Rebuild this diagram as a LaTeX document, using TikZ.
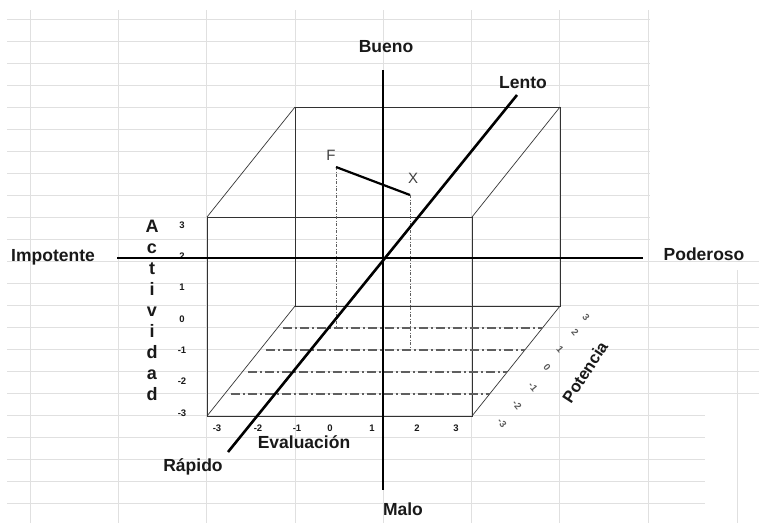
\documentclass[tikz,border=0pt]{standalone}
\usepackage{fontspec}
\setmainfont{Liberation Sans}
\usepackage{xcolor}
\usetikzlibrary{calc}
\definecolor{gridgray}{RGB}{224,224,224}
\definecolor{edgegray}{RGB}{50,50,50}
\definecolor{dashgray}{RGB}{95,95,95}
\definecolor{labelblack}{RGB}{25,25,25}

\begin{document}
\begin{tikzpicture}[x=1pt,y=-1pt,
  gridline/.style={line width=0.8pt,gridgray},
  edge/.style={line width=1pt,edgegray},
  slantedge/.style={line width=0.7pt,edgegray},
  floorline/.style={line width=1.1pt,dashgray,dash pattern=on 9pt off 3pt on 2pt off 3pt},
  projline/.style={line width=0.7pt,dashgray,dash pattern=on 3pt off 1.5pt on 1pt off 1.5pt},
  axisline/.style={line width=2.6pt,black},
  axislabel/.style={font=\fontsize{17.5}{20}\selectfont\bfseries,text=labelblack,inner sep=1pt},
  letterlabel/.style={font=\fontsize{18}{20}\selectfont\bfseries,text=labelblack,inner sep=0pt,anchor=base},
  ticklabel/.style={font=\fontsize{9.5}{11}\selectfont\bfseries,text=labelblack,inner sep=0.5pt},
  slanttick/.style={font=\fontsize{9.5}{11}\selectfont\bfseries,text=black!65,inner sep=0pt,rotate=-50},
  pointlabel/.style={font=\fontsize{15}{17}\selectfont,text=black!75,inner sep=1pt}]
  \useasboundingbox (0,0) rectangle (759,523);
  % spreadsheet grid behind
  \foreach \gy in {19,41,...,239} \draw[gridline] (7,\gy) -- (650,\gy);
  \foreach \gy in {261,283,...,393} \draw[gridline] (7,\gy) -- (759,\gy);
  \foreach \gy in {415,437,...,503} \draw[gridline] (7,\gy) -- (705,\gy);
  \foreach \gx in {30,118.3,...,650} \draw[gridline] (\gx,10) -- (\gx,523);
  \draw[gridline] (737,270) -- (737,523);
  % cube
  \coordinate (f1) at (207,217);
  \coordinate (f2) at (472,217);
  \coordinate (f3) at (472,416);
  \coordinate (f4) at (207,416);
  \coordinate (b1) at (295,107);
  \coordinate (b2) at (560,107);
  \coordinate (b3) at (560,306);
  \coordinate (b4) at (295,306);
  \draw[edge] (f1) -- (f2) -- (f3) -- (f4) -- cycle;
  \draw[edge] (b1) -- (b2) -- (b3) -- (b4) -- cycle;
  \draw[slantedge] (f1) -- (b1) (f2) -- (b2) (f3) -- (b3) (f4) -- (b4);
  \foreach \t in {0.2,0.4,0.6,0.8}
    \draw[floorline] ($(f4)!\t!(b4)+(6,0)$) -- ($(f3)!\t!(b3)$);
  % points F and X
  \coordinate (pF) at (336,167);
  \coordinate (pX) at (410,195);
  \coordinate (pFb) at (336,328);
  \coordinate (pXb) at (410,350);
  \draw[projline] (pF) -- (pFb);
  \draw[projline] (pX) -- (pXb);
  \draw[line width=2.2pt] (pF) -- (pX);
  \node[pointlabel] (lblF) at (331,155) {F};
  \node[pointlabel] (lblX) at (413,178) {X};
  % scales
  \foreach \ch [count=\i from 0] in {A,c,t,i,v,i,d,a,d}
    \node[letterlabel] (act\i) at (152,{232+21.1*\i}) {\ch};
  \foreach \v [count=\i from 0] in {3,2,1,0,-1,-2,-3}
    \node[ticklabel] (actn\i) at (182,{225+31.3*\i}) {\v};
  \foreach \v/\x [count=\i] in {-3/217,-2/258,-1/297,0/330,1/372,2/417,3/456}
    \node[ticklabel] (evan\i) at (\x,428) {\v};
  \foreach \v/\x/\y [count=\i] in {-3/502/423,-2/517/405,-1/533/387,0/547/367,1/560/349,2/575/332,3/586/317}
    \node[slanttick] (potn\i) at (\x,\y) {\v};
  % axes
  \coordinate (eTop) at (383,70);
  \coordinate (eBot) at (383,490);
  \coordinate (pLeft) at (117,258);
  \coordinate (pRight) at (643,258);
  \coordinate (aUp) at (517,95);
  \coordinate (aDown) at (228,452);
  \draw[axisline] (eTop) -- (eBot);
  \draw[axisline] (pLeft) -- (pRight);
  \draw[axisline] (aDown) -- (aUp);
  \node[axislabel] (bueno) at (386,47) {Bueno};
  \node[axislabel] (malo) at (403,509) {Malo};
  \node[axislabel] (impotente) at (53,257) {Impotente};
  \node[axislabel] (poderoso) at (704,254) {Poderoso};
  \node[axislabel] (lento) at (523,83) {Lento};
  \node[axislabel] (rapido) at (193,467) {Rápido};
  \node[axislabel] (evaluacion) at (304,442) {Evaluación};
  \node[axislabel,font=\fontsize{16.5}{19}\selectfont\bfseries,rotate=57] (potencia) at (585,372) {Potencia};
\end{tikzpicture}
\end{document}
